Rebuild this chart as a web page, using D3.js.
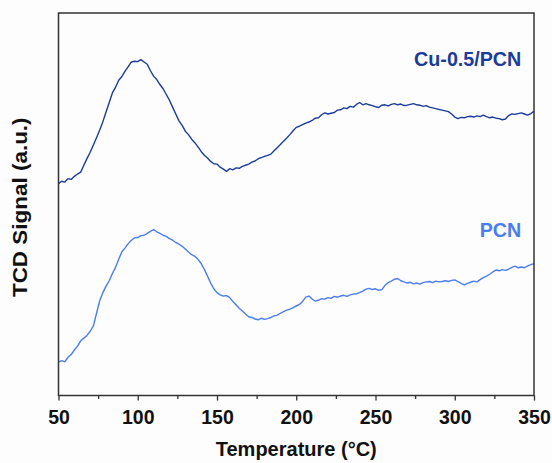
<!DOCTYPE html>
<html>
<head>
<meta charset="utf-8">
<script src="https://cdn.jsdelivr.net/npm/d3@7"></script>
<style>
  html, body { margin: 0; padding: 0; background: #fdfdfd; }
  svg { display: block; }
  text { font-family: Arial, "Liberation Sans", sans-serif; font-weight: bold; fill: #111; }
</style>
</head>
<body>
<svg id="chart" width="552" height="463"></svg>
<script>
// Temperature grid (°C), sampled every 2 degrees
const temperature = d3.range(50, 351, 2);

// TCD signal, arbitrary units, Cu-0.5/PCN
const cuSignal = [
  55.4, 56.0, 55.8, 56.7, 56.5, 57.3, 57.9, 58.4, 60.2, 62.0,
  63.6, 65.5, 67.4, 69.4, 71.6, 74.1, 76.6, 79.1, 80.6, 82.4,
  83.4, 84.8, 86.0, 87.2, 87.4, 87.3, 87.8, 87.2, 86.6, 84.9,
  83.5, 82.6, 81.3, 80.2, 78.7, 77.2, 75.4, 73.6, 71.8, 70.6,
  69.1, 68.2, 67.0, 66.1, 65.0, 63.8, 62.8, 62.1, 61.2, 60.6,
  60.5, 59.7, 59.2, 58.6, 59.3, 59.0, 59.5, 59.4, 59.9, 60.2,
  60.5, 61.0, 61.3, 61.9, 62.2, 62.5, 62.8, 63.1, 64.0, 64.8,
  65.6, 66.5, 67.3, 68.2, 69.2, 70.1, 70.4, 70.8, 71.2, 71.5,
  71.9, 72.5, 72.6, 73.4, 73.9, 73.6, 73.8, 74.0, 74.6, 74.7,
  75.2, 75.0, 75.6, 75.4, 76.1, 76.6, 76.0, 76.3, 76.0, 75.8,
  75.5, 75.3, 75.9, 76.0, 75.7, 76.1, 76.3, 76.0, 76.2, 75.8,
  75.9, 76.1, 76.3, 76.0, 75.9, 75.6, 75.8, 75.4, 75.2, 75.0,
  74.8, 74.6, 74.4, 74.2, 73.6, 72.8, 72.4, 72.7, 72.6, 72.9,
  73.0, 72.8, 73.1, 72.9, 73.3, 72.9, 72.6, 72.8, 72.5, 72.4,
  72.1, 72.3, 73.2, 73.6, 73.5, 73.7, 73.9, 73.6, 73.3, 73.7,
  74.3
];

// TCD signal, arbitrary units, PCN
const pcnSignal = [
   8.7,  9.1,  8.8, 10.0, 10.7, 11.9, 12.9, 14.3, 15.0, 15.7,
  16.8, 18.2, 21.5, 24.8, 26.9, 28.6, 30.0, 31.9, 33.5, 35.6,
  37.6, 38.6, 39.7, 40.6, 41.2, 41.3, 41.8, 41.9, 42.4, 42.9,
  43.4, 42.8, 42.4, 41.9, 41.6, 41.0, 40.6, 40.0, 39.6, 39.0,
  38.3, 37.5, 36.8, 36.4, 35.6, 34.5, 33.0, 31.2, 29.4, 27.9,
  26.9, 26.3, 26.0, 26.1, 25.6, 24.6, 23.7, 22.8, 22.1, 21.3,
  20.6, 20.4, 20.0, 19.8, 20.2, 19.9, 20.1, 20.4, 20.8, 21.0,
  21.5, 21.9, 22.3, 22.6, 23.0, 23.4, 23.8, 24.6, 25.7, 26.0,
  25.2, 24.7, 24.9, 25.3, 25.2, 25.6, 25.4, 25.9, 25.7, 26.0,
  26.2, 25.9, 26.3, 26.5, 26.6, 26.9, 27.3, 27.8, 28.0, 27.7,
  27.9, 27.5, 27.7, 28.8, 29.5, 29.9, 30.4, 30.6, 30.0, 29.7,
  29.4, 29.6, 29.2, 29.4, 29.1, 29.5, 29.7, 29.8, 29.5, 29.9,
  29.7, 29.8, 30.0, 29.8, 30.1, 30.2, 29.8, 29.3, 28.9, 29.3,
  29.6, 29.9, 29.7, 30.3, 30.8, 31.2, 31.7, 32.3, 32.8, 32.6,
  32.9, 32.7, 33.0, 33.5, 33.8, 33.4, 33.6, 33.4, 33.9, 34.2,
  34.5
];

const seriesNames = ["Cu-0.5/PCN", "PCN"];
const seriesColors = ["#1b3c9b", "#4a7df0"];
const xTicks = [50, 100, 150, 200, 250, 300, 350];
const xMinorTicks = [75, 125, 175, 225, 275, 325];

const margin = { left: 58.5, right: 18, top: 13, bottom: 67.5 };
const W = 552, H = 463;
const svg = d3.select("#chart");

const x = d3.scaleLinear().domain([50, 350]).range([margin.left, W - margin.right]);
const y = d3.scaleLinear().domain([0, 100]).range([H - margin.bottom, margin.top]);

const line = d3.line()
  .x((d, i) => x(temperature[i]))
  .y(d => y(d));

// curves
[cuSignal, pcnSignal].forEach((vals, k) => {
  svg.append("path")
    .datum(vals)
    .attr("fill", "none")
    .attr("stroke", seriesColors[k])
    .attr("stroke-width", 1.4)
    .attr("stroke-linejoin", "round")
    .attr("d", line);
});

// series labels, right-aligned near the right edge of the frame
const labelBaselines = [65.5, 237];
seriesNames.forEach((name, k) => {
  svg.append("text")
    .attr("x", x(342)).attr("y", labelBaselines[k])
    .attr("text-anchor", "end").attr("font-size", 19.7)
    .style("fill", seriesColors[k])
    .text(name);
});

// frame
svg.append("rect")
  .attr("x", margin.left).attr("y", margin.top)
  .attr("width", W - margin.right - margin.left)
  .attr("height", H - margin.bottom - margin.top)
  .attr("fill", "none").attr("stroke", "#333").attr("stroke-width", 1.5);

// bottom axis, major ticks with labels
const gx = svg.append("g").attr("transform", `translate(0,${H - margin.bottom})`);
gx.call(d3.axisBottom(x).tickValues(xTicks).tickSize(5).tickFormat(d3.format("d")));
gx.select(".domain").remove();
gx.selectAll(".tick line").attr("stroke", "#333").attr("stroke-width", 1.3);
gx.selectAll(".tick text")
  .attr("y", 28).attr("dy", 0)
  .attr("font-size", 19.5).attr("font-family", "Arial, 'Liberation Sans', sans-serif")
  .attr("font-weight", "bold").attr("fill", "#111");

// minor ticks
const gm = svg.append("g").attr("transform", `translate(0,${H - margin.bottom})`);
gm.call(d3.axisBottom(x).tickValues(xMinorTicks).tickSize(3.5).tickFormat(""));
gm.select(".domain").remove();
gm.selectAll(".tick line").attr("stroke", "#333").attr("stroke-width", 1.3);

// axis titles
svg.append("text")
  .attr("x", (x(50) + x(350)) / 2).attr("y", 456)
  .attr("text-anchor", "middle").attr("font-size", 20)
  .text("Temperature (°C)");
svg.append("text")
  .attr("transform", `translate(27,${(y(0) + y(100)) / 2 + 3}) rotate(-90) scale(1.07,1)`)
  .attr("text-anchor", "middle").attr("font-size", 21)
  .text("TCD Signal (a.u.)");
</script>
</body>
</html>
